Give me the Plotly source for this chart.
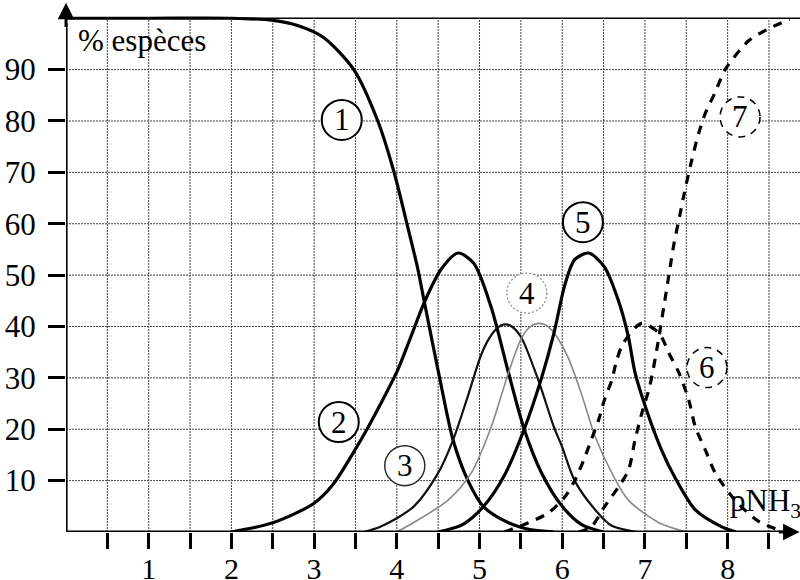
import plotly.graph_objects as go

# ---------------- data ----------------
c1_x = [0.0, 1.0, 2.0, 2.5, 2.8, 3.11, 3.48, 3.77, 3.96, 4.13, 4.25, 4.33, 4.53, 4.68, 4.86, 5.05, 5.35, 5.63, 5.9]
c1_y = [100, 100, 100, 99.6, 98.6, 96.3, 90, 80, 70.4, 59.5, 51.5, 45, 29, 17.9, 10, 4.9, 1.8, 0.4, 0]

c2_x = [2.0, 2.5, 3.0, 3.24, 3.48, 3.64, 3.8, 4.01, 4.17, 4.33, 4.53, 4.74, 4.93, 5.14, 5.35, 5.54, 5.75, 6.0, 6.23, 6.5]
c2_y = [0, 1.8, 5.6, 9.5, 15.6, 20, 24.8, 31.5, 38, 44.6, 51, 54.3, 52.3, 43.8, 31, 20, 11.5, 5, 1.5, 0]

c3_x = [3.6, 3.8, 4.2, 4.5, 4.68, 4.86, 5.02, 5.12, 5.22, 5.3, 5.38, 5.5, 5.71, 5.9, 6.0, 6.15, 6.4, 6.6, 6.9]
c3_y = [0, 1, 4.9, 11.5, 17.9, 26.5, 34.5, 37.8, 39.8, 40.4, 40.1, 38, 29.6, 20.4, 16.5, 10, 4.3, 1.2, 0]

c4_x = [4.0, 4.2, 4.62, 4.9, 5.14, 5.35, 5.5, 5.6, 5.71, 5.8, 5.9, 6.07, 6.23, 6.4, 6.6, 6.8, 7.17, 7.5]
c4_y = [0, 1.8, 6.2, 11.5, 20.4, 31, 37.5, 39.8, 40.6, 40.3, 38.8, 34, 27, 18.5, 11.5, 6.2, 1.8, 0]

c5_x = [4.5, 4.8, 5.05, 5.3, 5.54, 5.75, 5.9, 6.03, 6.15, 6.32, 6.51, 6.68, 6.8, 6.88, 7.02, 7.2, 7.36, 7.61, 7.93, 8.1]
c5_y = [0, 1.5, 5, 11, 20, 30, 38.7, 48, 53, 54.3, 51.6, 45, 38, 31, 23.7, 16, 10.7, 4.3, 1, 0]

c6_x = [5.3, 5.59, 5.83, 6.03, 6.15, 6.26, 6.35, 6.44, 6.51, 6.6, 6.66, 6.74, 6.96, 7.17, 7.29, 7.41, 7.53, 7.61, 7.73, 7.85, 8.1, 8.38, 8.6]
c6_y = [0, 1.8, 3.7, 6.8, 10, 14, 17.9, 21.8, 25.7, 29.6, 33.5, 36.8, 40.6, 38.7, 34.8, 31, 25.7, 20.4, 16, 11.5, 6, 2, 0.5]

c7_x = [6.2, 6.35, 6.51, 6.68, 6.8, 6.88, 6.96, 7.06, 7.17, 7.23, 7.29, 7.35, 7.42, 7.47, 7.56, 7.65, 7.73, 7.85, 7.97, 8.26, 8.5, 8.75]
c7_y = [0, 1, 4.9, 8.8, 12, 17.9, 23, 28.5, 38, 44, 50, 56, 61.5, 65.5, 72, 77.6, 81.5, 85.6, 90, 95.7, 98, 99.8]

x_ticks = [0.5 * i for i in range(1, 18)]
x_labels = [str(int(v)) if v == int(v) else "" for v in x_ticks]
y_ticks = [10, 20, 30, 40, 50, 60, 70, 80, 90]
y_labels = [str(v) for v in y_ticks]

label_names = ["1", "2", "3", "4", "5", "6", "7"]
label_x = [3.334, 3.298, 4.096, 5.572, 6.25, 7.75, 8.15]
label_y = [80.2, 21.4, 12.9, 46.5, 60.3, 32.0, 80.8]

# ---------------- styles ----------------
FONT = "Liberation Serif"
curves = [
    (c1_x, c1_y, dict(color="black", width=3.2)),
    (c2_x, c2_y, dict(color="black", width=3.2)),
    (c3_x, c3_y, dict(color="#111111", width=2.2)),
    (c4_x, c4_y, dict(color="#888888", width=1.6)),
    (c5_x, c5_y, dict(color="black", width=3.2)),
    (c6_x, c6_y, dict(color="black", width=3.2, dash="9px,8px")),
    (c7_x, c7_y, dict(color="black", width=3.2, dash="9px,8px")),
]
circle_styles = [
    dict(color="black", width=2),
    dict(color="black", width=2),
    dict(color="#222222", width=1.4),
    dict(color="#888888", width=1.2, dash="2px,2px"),
    dict(color="black", width=2),
    dict(color="black", width=1.5, dash="7px,6px"),
    dict(color="black", width=1.5, dash="7px,6px"),
]

fig = go.Figure()
for cx, cy, ln in curves:
    fig.add_trace(go.Scatter(x=cx, y=cy, mode="lines",
                             line=dict(shape="spline", smoothing=0.8, **ln),
                             hoverinfo="skip", showlegend=False))

shapes = []
grid_line = dict(color="#444444", width=1, dash="2px,1px")
for v in x_ticks:
    shapes.append(dict(type="line", xref="x", yref="y", x0=v, x1=v, y0=0, y1=100,
                       line=grid_line, layer="below"))
for v in y_ticks:
    shapes.append(dict(type="line", xref="paper", yref="y", x0=0, x1=1, y0=v, y1=v,
                       line=grid_line, layer="below"))
# top border at 100 %
shapes.append(dict(type="line", xref="paper", yref="y", x0=0, x1=1, y0=100, y1=100,
                   line=dict(color="black", width=1.6), layer="below"))
# axes
shapes.append(dict(type="line", xref="x", yref="y", x0=0, x1=8.7, y0=0, y1=0,
                   line=dict(color="black", width=3.2), layer="above"))
shapes.append(dict(type="line", xref="x", yref="y", x0=0, x1=0, y0=0, y1=99,
                   line=dict(color="black", width=3.2), layer="above"))
# label circles
for lx, ly, st in zip(label_x, label_y, circle_styles):
    shapes.append(dict(type="circle", xref="x", yref="y", xsizemode="pixel", ysizemode="pixel",
                       xanchor=lx, yanchor=ly, x0=-20, x1=20, y0=-20, y1=20,
                       line=st, fillcolor="white", layer="above"))

annotations = []
for name, lx, ly in zip(label_names, label_x, label_y):
    annotations.append(dict(x=lx, y=ly, xref="x", yref="y", text=name, showarrow=False,
                            font=dict(family=FONT, size=31, color="black"),
                            xanchor="center", yanchor="middle"))
annotations.append(dict(x=0.12, y=95.7, xref="x", yref="y", text="% espèces", showarrow=False,
                        font=dict(family=FONT, size=31, color="black"), xanchor="left", yanchor="middle"))
annotations.append(dict(x=8.0, y=5.6, xref="x", yref="y", text="pNH<sub>3</sub>", showarrow=False,
                        font=dict(family=FONT, size=31, color="black"), xanchor="left", yanchor="middle"))
annotations.append(dict(x=-0.32, y=-5.1, xref="x", yref="y", text="0", showarrow=False,
                        font=dict(family=FONT, size=31, color="black"), xanchor="center", yanchor="middle"))
# arrow heads
annotations.append(dict(x=8.87, y=0, ax=8.6, ay=0, xref="x", yref="y", axref="x", ayref="y",
                        text="", showarrow=True, arrowhead=2, arrowsize=1.1, arrowwidth=3, arrowcolor="black"))
annotations.append(dict(x=0, y=103, ax=0, ay=98, xref="x", yref="y", axref="x", ayref="y",
                        text="", showarrow=True, arrowhead=2, arrowsize=1.1, arrowwidth=3, arrowcolor="black"))

fig.update_layout(
    width=800, height=580,
    margin=dict(l=66, r=0, t=0, b=48),
    paper_bgcolor="white", plot_bgcolor="white",
    shapes=shapes, annotations=annotations,
    xaxis=dict(range=[0, 8.875], showgrid=False, zeroline=False, showline=False,
               tickmode="array", tickvals=x_ticks, ticktext=x_labels,
               ticks="outside", ticklen=16, tickwidth=2.5, tickcolor="black",
               tickfont=dict(family=FONT, size=30, color="black"),
               ticklabelstandoff=-6, automargin=False, fixedrange=True),
    yaxis=dict(range=[0, 103.55], showgrid=False, zeroline=False, showline=False,
               tickmode="array", tickvals=y_ticks, ticktext=y_labels,
               ticks="outside", ticklen=17, tickwidth=3, tickcolor="black",
               tickfont=dict(family=FONT, size=31, color="black"),
               ticklabelstandoff=6, automargin=False, fixedrange=True),
)

fig.write_html("out.html", config={"displayModeBar": False},
               post_script="document.body.style.margin='0';document.body.style.overflow='hidden';")
